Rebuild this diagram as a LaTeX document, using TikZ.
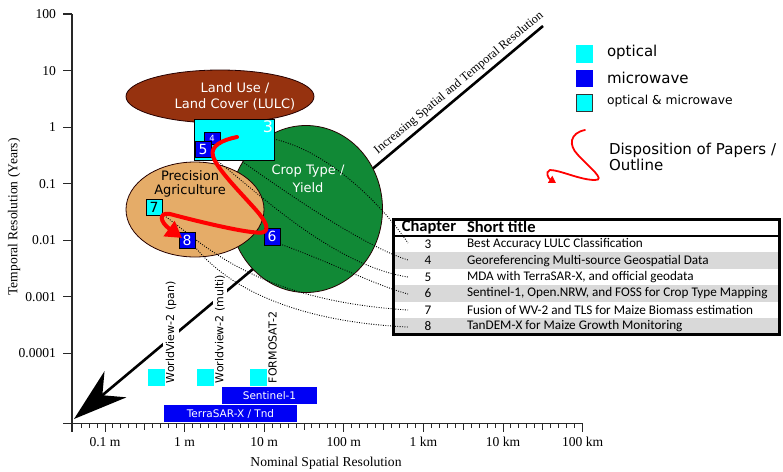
\documentclass[tikz,border=0pt]{standalone}
\usepackage{fontspec}
\setmainfont{DejaVu Sans}
\newfontfamily\timesf{Liberation Serif}
\newfontfamily\calf{Carlito}
\usetikzlibrary{arrows.meta,shapes.geometric}
\definecolor{lulcbrown}{RGB}{150,50,15}
\definecolor{cropgreen}{RGB}{17,137,54}
\definecolor{precorange}{RGB}{229,172,104}
\definecolor{optcyan}{RGB}{0,255,255}
\definecolor{mwblue}{RGB}{0,0,245}
\definecolor{rowgray}{RGB}{217,217,217}
\definecolor{axgray}{RGB}{40,40,40}
\newcommand\fsz[1]{\fontsize{#1}{#1}\selectfont}
\begin{document}
\begin{tikzpicture}[x=1pt,y=-1pt,
  every node/.style={inner sep=0pt,outer sep=0pt},
  axln/.style={line width=1.2pt,draw=axgray},
  tlab/.style={font=\timesf\fsz{13.6}},
  dotln/.style={line width=0.9pt,dash pattern=on 0.9pt off 1.5pt},
  regionell/.style={ellipse,draw=black!85!red,line width=0.8pt},
  numbox/.style={draw=black,line width=0.6pt,minimum width=16pt,minimum height=16pt,text=white,font=\fsz{14}},
  satlab/.style={rotate=90,anchor=west,fill=white,inner sep=2.5pt,font=\fsz{11}},
  cyansq/.style={fill=optcyan,minimum width=17pt,minimum height=17pt},
  bluebar/.style={fill=mwblue,text=white,minimum height=17pt,font=\fsz{10.5}},
  tbltxt/.style={font=\calf\fsz{13.2}},
  redpath/.style={draw=red,line width=4pt,line cap=round},
  legtxt/.style={anchor=west,font=\fsz{15}},
]
\useasboundingbox (0,0) rectangle (783,471);

% ---------- axes ----------
\draw[axln] (72,14) -- (72,432);
\draw[axln] (63,423.3) -- (583,423.3);
\foreach \v/\yy [count=\i] in {100/14,10/70.6,1/127.1,0.1/183.6,0.01/240.1,0.001/296.7,0.0001/353.3}{
  \draw[axln] (63,\yy) -- (72,\yy);
  \node[tlab,anchor=east] (ytl\i) at (56,\yy) {\v};
}
\foreach \k in {-3,...,60}{
  \pgfmathsetmacro\xx{105+7.96*\k}
  \pgfmathtruncatemacro\mten{mod(\k+10,10)}
  \pgfmathsetmacro\tl{ifthenelse(\mten==0,8.5,ifthenelse(\mten==5,6.5,4.5))}
  \draw[axgray,line width=1pt] (\xx,423.3) -- (\xx,423.3+\tl);
}
\foreach \lab [count=\i from 0] in {0.1 m,1 m,10 m,100 m,1 km,10 km,100 km}{
  \node[tlab] (xtl\i) at (105+79.6*\i,442) {\lab};
}
\node[tlab,rotate=90] (ylab) at (14,217) {Temporal Resolution (Years)};
\node[tlab] (xlab) at (326,463) {Nominal Spatial Resolution};

% ---------- diagonal ----------
\coordinate (dtop) at (543,26);
\coordinate (dtip) at (74,419);
\draw[line width=2.6pt,-{Stealth[length=54pt,width=34pt,inset=17pt]}] (dtop) -- (dtip);
\node[rotate=39.7,anchor=south,font=\timesf\fsz{12.3}] (diaglab) at (462.6,87.5) {Increasing Spatial and Temporal Resolution};

% ---------- sensors ----------
\node[satlab] (wvpan) at (171,385.5) {WorldView-2 (pan)};
\node[satlab] (wvmul) at (220,385.5) {Worldview-2 (multi)};
\node[satlab] (fs2) at (272.5,385.5) {FORMOSAT-2};
\node[cyansq] (sq1) at (156.5,377.5) {};
\node[cyansq] (sq2) at (205.5,377.5) {};
\node[cyansq] (sq3) at (258.5,377.5) {};
\node[bluebar,minimum width=95pt] (sent) at (269.5,395.5) {Sentinel-1};
\node[bluebar,minimum width=133pt] (tsx) at (230.5,413.5) {TerraSAR-X / Tnd};

% ---------- application domains ----------
\node[regionell,fill=lulcbrown,minimum width=188pt,minimum height=53pt] (lulc) at (220,96.5) {};
\node[text=white,font=\fsz{13}] (lulct1) at (235,88) {Land Use /};
\node[text=white,font=\fsz{13}] (lulct2) at (235,104) {Land Cover (LULC)};
\node[regionell,fill=cropgreen,minimum width=153pt,minimum height=167pt] (crop) at (306,209) {};
\node[text=white,font=\fsz{13}] (cropt1) at (308,171.5) {Crop Type /};
\node[text=white,font=\fsz{13}] (cropt2) at (308,188) {Yield};
\node[regionell,fill=precorange,minimum width=138pt,minimum height=95pt] (prec) at (195,209.5) {};
\node[font=\fsz{13}] (prect1) at (190,176) {Precision};
\node[font=\fsz{13}] (prect2) at (190,190.5) {Agriculture};

% ---------- table ----------
\foreach \r in {1,3,5}{
  \fill[rowgray] (393.5,236+16.4*\r) rectangle (779.5,236+16.4*\r+16.4);
}
\node[font=\calf\bfseries\fsz{16.5}] (hch) at (429,227) {Chapter};
\node[font=\calf\bfseries\fsz{16.5},anchor=west] (hst) at (467,227) {Short title};
\foreach \n/\t [count=\r from 0] in {3/Best Accuracy LULC Classification,
  4/Georeferencing Multi-source Geospatial Data,
  5/{MDA with TerraSAR-X, and official geodata},
  6/{Sentinel-1, Open.NRW, and FOSS for Crop Type Mapping},
  7/Fusion of WV-2 and TLS for Maize Biomass estimation,
  8/TanDEM-X for Maize Growth Monitoring}{
  \node[tbltxt] (tn\n) at (428,244.2+16.4*\r) {\n};
  \node[tbltxt,anchor=west] (tt\n) at (467,244.2+16.4*\r) {\t};
}
\draw[line width=1.6pt] (393.5,236) -- (779.5,236);
\draw[line width=3pt] (393.5,219.5) rectangle (779.5,334.5);

% ---------- dotted connectors ----------
\coordinate (s3) at (274,139);
\coordinate (s4) at (219,145);
\coordinate (s5) at (211,156);
\coordinate (s6) at (280,244);
\coordinate (s7) at (162,214);
\coordinate (s8) at (195,247);
\coordinate (t3) at (408,243);
\coordinate (t4) at (408,260);
\coordinate (t5) at (408,277);
\coordinate (t6) at (408,294);
\coordinate (t7) at (408,310);
\coordinate (t8) at (408,327);
\draw[dotln] (s3) .. controls (330,152) and (382,205) .. (t3);
\draw[dotln] (s4) .. controls (275,185) and (360,245) .. (t4);
\draw[dotln] (s5) .. controls (250,185) and (330,265) .. (t5);
\draw[dotln] (s6) .. controls (330,262) and (375,285) .. (t6);
\draw[dotln] (s7) .. controls (200,240) and (250,300) .. (t7);
\draw[dotln] (s8) .. controls (230,290) and (300,322) .. (t8);

% ---------- chapter boxes ----------
\node[draw=black,line width=0.6pt,fill=optcyan,minimum width=80pt,minimum height=41pt] (b3) at (234,139.5) {};
\node[text=white,font=\fsz{16}] (b3l) at (268,126.5) {3};
\node[numbox,fill=mwblue,minimum height=12pt,font=\fsz{8.5}] (b4) at (212,138) {4};
\node[numbox,fill=mwblue] (b5) at (203,149) {5};
\node[numbox,fill=mwblue,minimum height=17pt] (b6) at (272,236.5) {6};
\node[numbox,fill=optcyan,text=black] (b7) at (154,207) {7};
\node[numbox,fill=mwblue] (b8) at (187,240) {8};

% ---------- disposition path ----------
\draw[redpath,-{Triangle[length=16pt,width=18pt]}] (237,137) .. controls (222,140) and (210,146) .. (213,156)
  .. controls (216,168) and (240,192) .. (256,210)
  .. controls (265,220) and (271,231) .. (262,232.5)
  .. controls (250,234) and (200,222) .. (170,214)
  .. controls (158,212) and (160,222) .. (182,238);

% ---------- legend ----------
\node[fill=optcyan,minimum width=17pt,minimum height=18pt] (lg1) at (584.5,54) {};
\node[legtxt] (lt1) at (607,52.5) {optical};
\node[fill=mwblue,minimum width=17pt,minimum height=17pt] (lg2) at (584.5,78.7) {};
\node[legtxt] (lt2) at (607,77.5) {microwave};
\node[fill=optcyan,draw=black!80,line width=0.8pt,minimum width=16.5pt,minimum height=16.5pt] (lg3) at (584.5,102.7) {};
\node[anchor=west,font=\fsz{12.3}] (lt3) at (607,101.5) {optical \& microwave};
\draw[draw=red,line width=1.8pt,line cap=round,-{Triangle[length=7pt,width=8pt]}] (585,130)
  .. controls (570,133) and (568,145) .. (578,155)
  .. controls (590,168) and (606,180) .. (595,180)
  .. controls (580,180) and (560,170) .. (550,170)
  .. controls (545,172) and (548,178) .. (556,183);
\node[legtxt] (lt4) at (609,150.5) {Disposition of Papers /};
\node[legtxt] (lt5) at (609,164.5) {Outline};
\end{tikzpicture}
\end{document}
